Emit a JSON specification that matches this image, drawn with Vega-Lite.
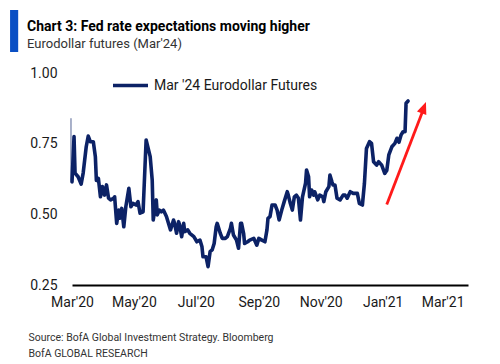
{
  "$schema": "https://vega.github.io/schema/vega-lite/v6.json",
  "width": 396,
  "height": 212,
  "autosize": "none",
  "padding": {"left": 72, "top": 73, "right": 32, "bottom": 79},
  "background": "white",
  "title": {
    "text": "Chart 3: Fed rate expectations moving higher",
    "subtitle": "Eurodollar futures (Mar'24)",
    "anchor": "start",
    "frame": "group",
    "dx": -45,
    "offset": -41,
    "font": "Roboto",
    "fontSize": 14,
    "fontWeight": "bold",
    "color": "#000000",
    "subtitleFont": "Roboto",
    "subtitleFontSize": 13,
    "subtitleColor": "#333333",
    "subtitlePadding": 4
  },
  "config": {
    "view": {"stroke": null},
    "font": "Roboto"
  },
  "datasets": {
    "series": [
      {"date": "2020-03-01", "value": 0.615},
      {"date": "2020-03-03", "value": 0.775},
      {"date": "2020-03-04", "value": 0.646},
      {"date": "2020-03-07", "value": 0.633},
      {"date": "2020-03-10", "value": 0.607},
      {"date": "2020-03-12", "value": 0.646},
      {"date": "2020-03-15", "value": 0.739},
      {"date": "2020-03-17", "value": 0.777},
      {"date": "2020-03-19", "value": 0.757},
      {"date": "2020-03-22", "value": 0.757},
      {"date": "2020-03-24", "value": 0.704},
      {"date": "2020-03-25", "value": 0.62},
      {"date": "2020-03-27", "value": 0.627},
      {"date": "2020-03-29", "value": 0.562},
      {"date": "2020-03-31", "value": 0.598},
      {"date": "2020-04-02", "value": 0.568},
      {"date": "2020-04-04", "value": 0.604},
      {"date": "2020-04-06", "value": 0.557},
      {"date": "2020-04-08", "value": 0.551},
      {"date": "2020-04-11", "value": 0.557},
      {"date": "2020-04-12", "value": 0.562},
      {"date": "2020-04-14", "value": 0.468},
      {"date": "2020-04-16", "value": 0.515},
      {"date": "2020-04-17", "value": 0.486},
      {"date": "2020-04-19", "value": 0.521},
      {"date": "2020-04-21", "value": 0.456},
      {"date": "2020-04-23", "value": 0.527},
      {"date": "2020-04-26", "value": 0.592},
      {"date": "2020-04-28", "value": 0.527},
      {"date": "2020-04-30", "value": 0.539},
      {"date": "2020-05-03", "value": 0.533},
      {"date": "2020-05-05", "value": 0.545},
      {"date": "2020-05-07", "value": 0.504},
      {"date": "2020-05-10", "value": 0.509},
      {"date": "2020-05-13", "value": 0.763},
      {"date": "2020-05-17", "value": 0.704},
      {"date": "2020-05-19", "value": 0.621},
      {"date": "2020-05-20", "value": 0.48},
      {"date": "2020-05-23", "value": 0.551},
      {"date": "2020-05-24", "value": 0.498},
      {"date": "2020-05-26", "value": 0.515},
      {"date": "2020-05-28", "value": 0.509},
      {"date": "2020-05-30", "value": 0.515},
      {"date": "2020-06-02", "value": 0.492},
      {"date": "2020-06-06", "value": 0.445},
      {"date": "2020-06-09", "value": 0.48},
      {"date": "2020-06-10", "value": 0.468},
      {"date": "2020-06-12", "value": 0.433},
      {"date": "2020-06-14", "value": 0.474},
      {"date": "2020-06-15", "value": 0.462},
      {"date": "2020-06-17", "value": 0.421},
      {"date": "2020-06-19", "value": 0.468},
      {"date": "2020-06-20", "value": 0.439},
      {"date": "2020-06-23", "value": 0.445},
      {"date": "2020-06-25", "value": 0.433},
      {"date": "2020-06-29", "value": 0.421},
      {"date": "2020-07-02", "value": 0.403},
      {"date": "2020-07-05", "value": 0.409},
      {"date": "2020-07-07", "value": 0.385},
      {"date": "2020-07-08", "value": 0.35},
      {"date": "2020-07-11", "value": 0.35},
      {"date": "2020-07-13", "value": 0.315},
      {"date": "2020-07-15", "value": 0.368},
      {"date": "2020-07-17", "value": 0.374},
      {"date": "2020-07-19", "value": 0.397},
      {"date": "2020-07-21", "value": 0.456},
      {"date": "2020-07-22", "value": 0.468},
      {"date": "2020-07-25", "value": 0.433},
      {"date": "2020-07-27", "value": 0.415},
      {"date": "2020-07-30", "value": 0.415},
      {"date": "2020-08-01", "value": 0.421},
      {"date": "2020-08-04", "value": 0.45},
      {"date": "2020-08-05", "value": 0.468},
      {"date": "2020-08-07", "value": 0.427},
      {"date": "2020-08-10", "value": 0.409},
      {"date": "2020-08-12", "value": 0.38},
      {"date": "2020-08-14", "value": 0.468},
      {"date": "2020-08-15", "value": 0.468},
      {"date": "2020-08-17", "value": 0.433},
      {"date": "2020-08-18", "value": 0.397},
      {"date": "2020-08-21", "value": 0.403},
      {"date": "2020-08-23", "value": 0.409},
      {"date": "2020-08-27", "value": 0.415},
      {"date": "2020-08-30", "value": 0.391},
      {"date": "2020-09-01", "value": 0.415},
      {"date": "2020-09-04", "value": 0.409},
      {"date": "2020-09-07", "value": 0.403},
      {"date": "2020-09-09", "value": 0.445},
      {"date": "2020-09-10", "value": 0.486},
      {"date": "2020-09-12", "value": 0.492},
      {"date": "2020-09-14", "value": 0.533},
      {"date": "2020-09-17", "value": 0.533},
      {"date": "2020-09-19", "value": 0.515},
      {"date": "2020-09-21", "value": 0.48},
      {"date": "2020-09-24", "value": 0.521},
      {"date": "2020-09-26", "value": 0.545},
      {"date": "2020-09-29", "value": 0.58},
      {"date": "2020-09-30", "value": 0.568},
      {"date": "2020-10-02", "value": 0.539},
      {"date": "2020-10-04", "value": 0.515},
      {"date": "2020-10-06", "value": 0.562},
      {"date": "2020-10-08", "value": 0.568},
      {"date": "2020-10-10", "value": 0.557},
      {"date": "2020-10-12", "value": 0.48},
      {"date": "2020-10-14", "value": 0.562},
      {"date": "2020-10-17", "value": 0.61},
      {"date": "2020-10-18", "value": 0.657},
      {"date": "2020-10-20", "value": 0.633},
      {"date": "2020-10-21", "value": 0.562},
      {"date": "2020-10-23", "value": 0.586},
      {"date": "2020-10-25", "value": 0.568},
      {"date": "2020-10-26", "value": 0.58},
      {"date": "2020-10-29", "value": 0.551},
      {"date": "2020-10-31", "value": 0.568},
      {"date": "2020-11-03", "value": 0.562},
      {"date": "2020-11-04", "value": 0.545},
      {"date": "2020-11-06", "value": 0.58},
      {"date": "2020-11-09", "value": 0.598},
      {"date": "2020-11-10", "value": 0.639},
      {"date": "2020-11-12", "value": 0.615},
      {"date": "2020-11-13", "value": 0.604},
      {"date": "2020-11-15", "value": 0.604},
      {"date": "2020-11-17", "value": 0.557},
      {"date": "2020-11-20", "value": 0.551},
      {"date": "2020-11-23", "value": 0.568},
      {"date": "2020-11-25", "value": 0.568},
      {"date": "2020-11-27", "value": 0.557},
      {"date": "2020-11-30", "value": 0.58},
      {"date": "2020-12-03", "value": 0.574},
      {"date": "2020-12-07", "value": 0.574},
      {"date": "2020-12-09", "value": 0.539},
      {"date": "2020-12-12", "value": 0.533},
      {"date": "2020-12-14", "value": 0.61},
      {"date": "2020-12-16", "value": 0.733},
      {"date": "2020-12-19", "value": 0.757},
      {"date": "2020-12-21", "value": 0.751},
      {"date": "2020-12-23", "value": 0.686},
      {"date": "2020-12-26", "value": 0.674},
      {"date": "2020-12-28", "value": 0.686},
      {"date": "2020-12-31", "value": 0.674},
      {"date": "2021-01-03", "value": 0.645},
      {"date": "2021-01-05", "value": 0.655},
      {"date": "2021-01-07", "value": 0.71},
      {"date": "2021-01-10", "value": 0.739},
      {"date": "2021-01-13", "value": 0.751},
      {"date": "2021-01-15", "value": 0.769},
      {"date": "2021-01-17", "value": 0.755},
      {"date": "2021-01-19", "value": 0.78},
      {"date": "2021-01-21", "value": 0.792},
      {"date": "2021-01-23", "value": 0.792},
      {"date": "2021-01-24", "value": 0.893},
      {"date": "2021-01-26", "value": 0.901}
    ],
    "arrow": [
      {"date": "2021-01-05", "value": 0.535, "date2": "2021-02-10", "value2": 0.871}
    ],
    "arrowHead": [
      {"date": "2021-02-12T14:00:00", "value": 0.897}
    ],
    "startSpike": [
      {"date": "2020-02-29", "value": 0.62, "value2": 0.84}
    ]
  },
  "layer": [
    {
      "data": {"values": [{"label": "bar"}]},
      "mark": {"type": "rect", "color": "#0a4fc4", "clip": false},
      "encoding": {
        "x": {"datum": {"year": 2019, "month": 12, "date": 31}, "type": "temporal"},
        "x2": {"datum": {"year": 2020, "month": 1, "date": 8}},
        "y": {"datum": 1.2229, "type": "quantitative"},
        "y2": {"datum": 1.0743}
      }
    },
    {
      "data": {"name": "startSpike"},
      "mark": {"type": "rule", "color": "#0c2266", "strokeWidth": 1, "opacity": 0.7},
      "encoding": {
        "x": {"field": "date", "type": "temporal"},
        "y": {"field": "value", "type": "quantitative"},
        "y2": {"field": "value2"}
      }
    },
    {
      "data": {"name": "series"},
      "mark": {"type": "line", "strokeWidth": 3.6, "strokeJoin": "round", "strokeCap": "round"},
      "encoding": {
        "x": {
          "field": "date",
          "type": "temporal",
          "scale": {"domain": [{"year": 2020, "month": 3, "date": 1}, {"year": 2021, "month": 3, "date": 26}]},
          "axis": {
            "values": [
              {"year": 2020, "month": 3, "date": 1},
              {"year": 2020, "month": 5, "date": 1},
              {"year": 2020, "month": 7, "date": 1},
              {"year": 2020, "month": 9, "date": 1},
              {"year": 2020, "month": 11, "date": 1},
              {"year": 2021, "month": 1, "date": 1},
              {"year": 2021, "month": 3, "date": 1}
            ],
            "format": "%b'%y",
            "labelFont": "Roboto",
            "labelFontSize": 14,
            "labelColor": "#1a1a1a",
            "labelPadding": 10,
            "labelFlush": false,
            "labelOverlap": false,
            "ticks": false,
            "grid": false,
            "domain": true,
            "domainColor": "#000000",
            "domainWidth": 2,
            "title": ["Source: BofA Global Investment Strategy. Bloomberg", "BofA GLOBAL RESEARCH"],
            "titleFont": "Roboto",
            "titleFontSize": 10.5,
            "titleFontWeight": "normal",
            "titleColor": "#333333",
            "titleAlign": "left",
            "titleAnchor": "start",
            "titleBaseline": "alphabetic",
            "titleLineHeight": 16,
            "titleX": -44,
            "titleY": 55
          }
        },
        "y": {
          "field": "value",
          "type": "quantitative",
          "scale": {"domain": [0.25, 1.0], "nice": false, "zero": false},
          "axis": {
            "values": [0.25, 0.5, 0.75, 1.0],
            "format": ".2f",
            "labelFont": "Roboto",
            "labelFontSize": 14,
            "labelColor": "#1a1a1a",
            "labelPadding": 15,
            "ticks": false,
            "grid": false,
            "domain": false,
            "title": null
          }
        },
        "color": {
          "datum": "Mar '24 Eurodollar Futures",
          "type": "nominal",
          "scale": {"range": ["#0c2266"]},
          "legend": {
            "orient": "none",
            "legendX": 39,
            "legendY": -7,
            "title": null,
            "symbolType": "stroke",
            "symbolSize": 1225,
            "symbolStrokeWidth": 3.4,
            "labelFont": "Roboto",
            "labelFontSize": 14,
            "labelColor": "#1a1a1a",
            "labelOffset": 4,
            "labelLimit": 0
          }
        }
      }
    },
    {
      "data": {"name": "arrow"},
      "mark": {"type": "rule", "color": "#ff1a1a", "strokeWidth": 2.8},
      "encoding": {
        "x": {"field": "date", "type": "temporal"},
        "x2": {"field": "date2"},
        "y": {"field": "value", "type": "quantitative"},
        "y2": {"field": "value2"}
      }
    },
    {
      "data": {"name": "arrowHead"},
      "mark": {"type": "point", "shape": "M0,0L-1,2.4L1,2.4Z", "filled": true, "color": "#ff1a1a", "size": 100, "angle": 21, "opacity": 1},
      "encoding": {
        "x": {"field": "date", "type": "temporal"},
        "y": {"field": "value", "type": "quantitative"}
      }
    }
  ]
}
